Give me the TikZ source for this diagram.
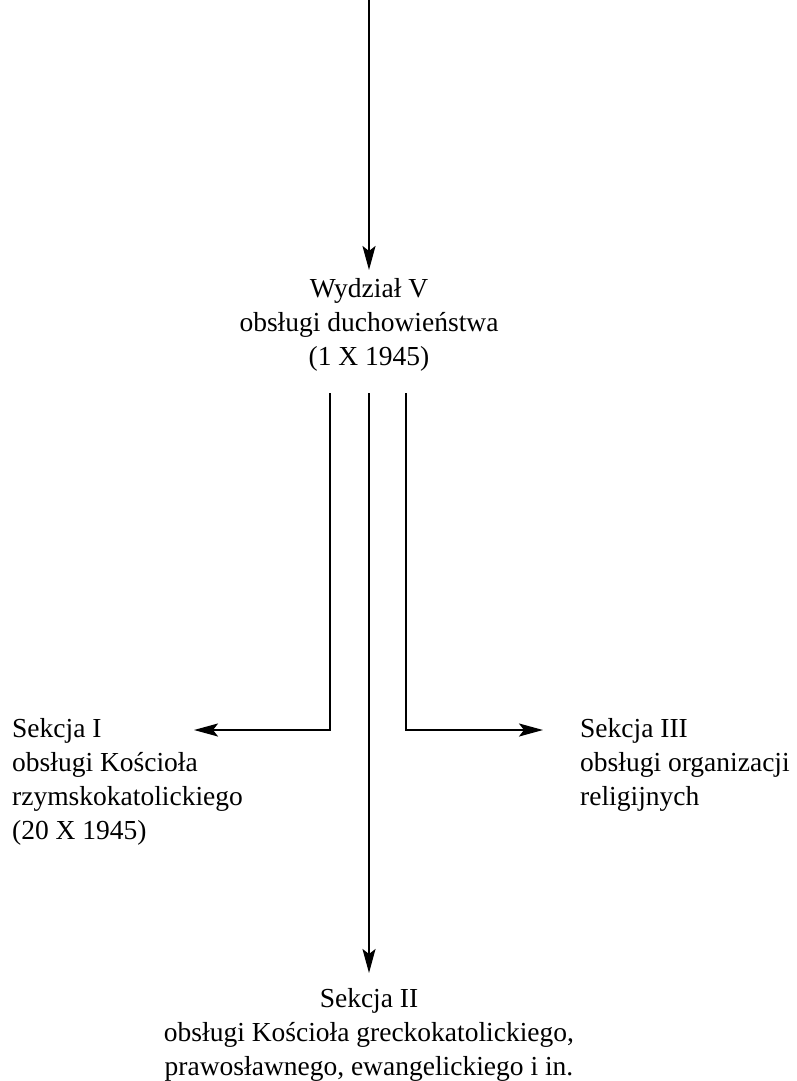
\documentclass[tikz,border=0pt]{standalone}
\usepackage{fontspec}
\setmainfont{Liberation Serif}
\usetikzlibrary{arrows.meta}
\begin{document}
\begin{tikzpicture}[x=1pt,y=-1pt,
  lbl/.style={inner sep=0pt, font=\fontsize{27.5}{34}\selectfont},
  conn/.style={line width=2pt, -{Stealth[length=24pt,width=13pt,inset=5pt]}}]
\useasboundingbox (0,0) rectangle (796,1081);
\node[lbl, align=center, anchor=base] (wyd) at (369,365) {Wydział V\\obsługi duchowieństwa\\(1 X 1945)};
\node[lbl, align=left, anchor=base west] (s1) at (12,839) {Sekcja I\\obsługi Kościoła\\rzymskokatolickiego\\(20 X 1945)};
\node[lbl, align=left, anchor=base west] (s3) at (580,805) {Sekcja III\\obsługi organizacji\\religijnych};
\node[lbl, align=center, anchor=base] (s2) at (369,1075) {Sekcja II\\obsługi Kościoła greckokatolickiego,\\prawosławnego, ewangelickiego i in.};
\coordinate (top) at (369,0);
\coordinate (tipw) at (369,270);
\coordinate (bl) at (330,393);
\coordinate (bm) at (369,393);
\coordinate (br) at (406,393);
\coordinate (t1) at (194,730);
\coordinate (t3) at (543,730);
\coordinate (t2) at (369,973);
\draw[conn] (top) -- (tipw);
\draw[conn] (bl) |- (t1);
\draw[conn] (br) |- (t3);
\draw[conn] (bm) -- (t2);
\end{tikzpicture}
\end{document}
